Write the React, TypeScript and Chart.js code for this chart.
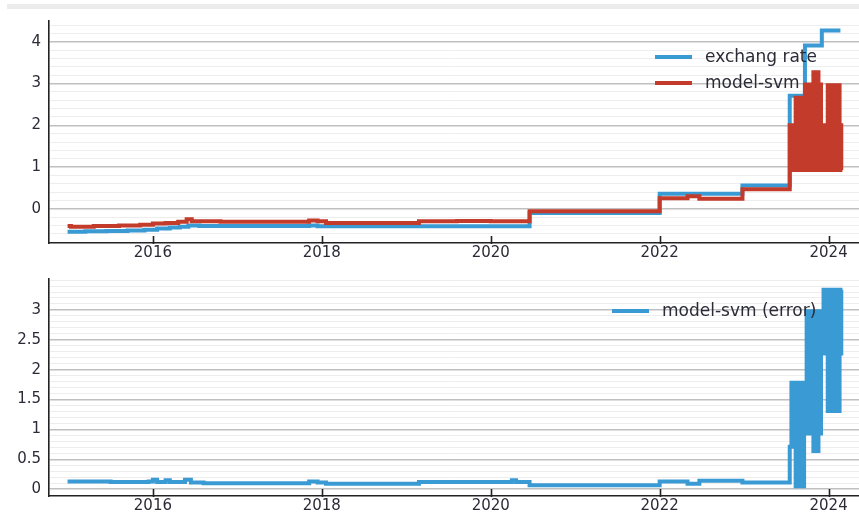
import React, { useEffect, useRef } from "react";
import { Chart, registerables } from "chart.js";

Chart.register(...registerables);

// ---- axis ticks ----
const xTickYears = [2016, 2018, 2020, 2022, 2024];
const topMajorLabels = [0, 1, 2, 3, 4];
const bottomMajorLabels = [0, 0.5, 1, 1.5, 2, 2.5, 3];

// ---- exchange rate (normalised) ----
const rateX = [2014.99, 2015.2, 2015.45, 2015.7, 2015.9, 2016.05, 2016.2, 2016.32, 2016.42, 2016.55, 2017.85, 2017.95, 2019.15, 2020.46, 2022.0, 2022.98, 2023.54, 2023.72, 2023.92, 2024.14];
const rateY = [-0.55, -0.54, -0.53, -0.52, -0.5, -0.47, -0.45, -0.43, -0.4, -0.41, -0.4, -0.42, -0.42, -0.1, 0.36, 0.56, 2.71, 3.91, 4.27, 4.27];

// ---- model-svm prediction, calm period ----
const svmFlatX = [2014.99, 2015.03, 2015.3, 2015.6, 2015.85, 2016.0, 2016.15, 2016.3, 2016.4, 2016.46, 2016.8, 2017.3, 2017.85, 2017.95, 2018.05, 2019.15, 2019.6, 2020.0, 2020.46, 2021.0, 2022.0, 2022.33, 2022.47, 2022.98];
const svmFlatY = [-0.41, -0.43, -0.41, -0.4, -0.38, -0.35, -0.34, -0.31, -0.25, -0.3, -0.31, -0.31, -0.28, -0.3, -0.34, -0.3, -0.29, -0.3, -0.06, -0.06, 0.25, 0.3, 0.24, 0.47];

// ---- model-svm (error), calm period ----
const errFlatX = [2014.99, 2015.5, 2015.95, 2016.0, 2016.05, 2016.15, 2016.2, 2016.38, 2016.45, 2016.6, 2017.85, 2017.95, 2018.05, 2019.15, 2020.25, 2020.3, 2020.46, 2022.0, 2022.33, 2022.47, 2022.98];
const errFlatY = [0.13, 0.12, 0.13, 0.16, 0.12, 0.15, 0.12, 0.16, 0.11, 0.1, 0.13, 0.11, 0.09, 0.12, 0.15, 0.12, 0.065, 0.13, 0.09, 0.14, 0.11];

// ---- volatile period 2023.5 - 2024.15 (prediction oscillates day to day) ----
const oscX = [2023.54, 2023.56, 2023.58, 2023.6, 2023.61, 2023.63, 2023.65, 2023.67, 2023.69, 2023.71, 2023.72, 2023.74, 2023.76, 2023.78, 2023.8, 2023.81, 2023.82, 2023.84, 2023.86, 2023.88, 2023.89, 2023.91, 2023.92, 2023.94, 2023.96, 2023.97, 2023.99, 2024.01, 2024.03, 2024.05, 2024.07, 2024.09, 2024.11, 2024.13, 2024.14, 2024.15];
const oscSvm = [2.0, 0.93, 2.0, 0.93, 2.66, 0.93, 2.66, 0.93, 2.66, 0.93, 2.98, 0.93, 2.98, 0.93, 2.98, 0.93, 3.27, 0.93, 3.27, 0.93, 2.98, 0.93, 2.0, 0.93, 2.0, 0.93, 2.96, 0.93, 2.96, 0.93, 2.96, 0.93, 2.96, 0.93, 2.0, 0.93];
const oscErr = [0.71, 1.78, 0.71, 1.78, 0.05, 1.78, 0.05, 1.78, 0.05, 1.78, 0.93, 2.98, 0.93, 2.98, 0.93, 2.98, 0.64, 2.98, 0.64, 2.98, 0.93, 2.98, 2.27, 3.34, 2.27, 3.34, 1.31, 3.34, 1.31, 3.34, 1.31, 3.34, 1.31, 3.34, 2.27, 3.34];

const BLUE = "#3a9ad3";
const RED = "#c23b2b";
const TEXT = "#2b2b38";
const AXIS = "#222";
const FONT = "'DejaVu Sans', Verdana, sans-serif";

const zip = (xs: number[], ys: number[]) => xs.map((x, i) => ({ x, y: ys[i] }));

function gridTicks(min: number, max: number, step: number) {
  const out: { value: number }[] = [];
  const n = Math.round((max - min) / step);
  for (let i = 0; i <= n; i++) out.push({ value: Math.round((min + i * step) * 1000) / 1000 });
  return out;
}

// inward tick marks on the x axis
const innerTicks = {
  id: "innerTicks",
  afterDraw(chart: any) {
    const xs = chart.scales.x;
    const bottom = chart.chartArea.bottom;
    const ctx = chart.ctx;
    ctx.save();
    ctx.strokeStyle = AXIS;
    ctx.lineWidth = 1.6;
    ctx.beginPath();
    xs.ticks.forEach((t: any) => {
      const px = Math.round(xs.getPixelForValue(t.value)) + 0.5;
      ctx.moveTo(px, bottom + 1);
      ctx.lineTo(px, bottom - 7);
    });
    ctx.stroke();
    ctx.restore();
  },
};

function makeConfig(
  datasets: any[],
  yMin: number,
  yMax: number,
  gMin: number,
  gMax: number,
  gStep: number,
  majors: number[],
  padTop: number,
  xHeight: number
): any {
  const isMajor = (v: number) => majors.some((m) => Math.abs(m - v) < 1e-6);
  return {
    type: "line",
    data: { datasets },
    plugins: [innerTicks],
    options: {
      animation: false,
      responsive: false,
      events: [],
      layout: { padding: { left: 0, right: 0, top: padTop, bottom: 0 } },
      plugins: { legend: { display: false }, tooltip: { enabled: false } },
      scales: {
        x: {
          type: "linear",
          min: 2014.77,
          max: 2024.36,
          afterBuildTicks: (s: any) => {
            s.ticks = xTickYears.map((v) => ({ value: v }));
          },
          afterFit: (s: any) => {
            s.height = xHeight;
          },
          grid: { drawOnChartArea: false, drawTicks: false },
          border: { display: true, color: AXIS, width: 1.5 },
          ticks: {
            padding: 1,
            color: TEXT,
            font: { family: FONT, size: 15 },
            maxRotation: 0,
            autoSkip: false,
            callback: (v: any) => String(v),
          },
        },
        y: {
          type: "linear",
          min: yMin,
          max: yMax,
          afterBuildTicks: (s: any) => {
            s.ticks = gridTicks(gMin, gMax, gStep);
          },
          afterFit: (s: any) => {
            s.width = 49;
          },
          grid: {
            drawTicks: false,
            color: (c: any) => (isMajor(c.tick.value) ? "#c0c0c0" : "#ededed"),
            lineWidth: (c: any) => (isMajor(c.tick.value) ? 1.4 : 1),
          },
          border: { display: true, color: AXIS, width: 1.6 },
          ticks: {
            padding: 8,
            color: TEXT,
            autoSkip: false,
            font: { family: FONT, size: 15 },
            callback: (v: any) => (isMajor(v) ? String(v) : ""),
          },
        },
      },
    },
  };
}

export default function App() {
  const topRef = useRef<HTMLCanvasElement>(null);
  const botRef = useRef<HTMLCanvasElement>(null);

  useEffect(() => {
    const top = new Chart(
      topRef.current as HTMLCanvasElement,
      makeConfig(
        [
          {
            label: "exchang rate",
            data: zip(rateX, rateY),
            borderColor: BLUE,
            backgroundColor: BLUE,
            borderWidth: 4,
            pointRadius: 0,
            stepped: true,
            order: 1,
          },
          {
            label: "model-svm",
            data: zip([...svmFlatX, ...oscX], [...svmFlatY, ...oscSvm]),
            borderColor: RED,
            backgroundColor: RED,
            borderWidth: 4,
            pointRadius: 0,
            stepped: true,
            order: 0,
          },
        ],
        -0.82,
        4.5,
        -0.8,
        4.4,
        0.2,
        topMajorLabels,
        21,
        19
      )
    );
    const bot = new Chart(
      botRef.current as HTMLCanvasElement,
      makeConfig(
        [
          {
            label: "model-svm (error)",
            data: zip([...errFlatX, ...oscX], [...errFlatY, ...oscErr]),
            borderColor: BLUE,
            backgroundColor: BLUE,
            borderWidth: 4,
            pointRadius: 0,
            stepped: true,
          },
        ],
        -0.114,
        3.518,
        -0.1,
        3.5,
        0.1,
        bottomMajorLabels,
        11,
        20
      )
    );
    return () => {
      top.destroy();
      bot.destroy();
    };
  }, []);

  const legendText: React.CSSProperties = {
    position: "absolute",
    fontFamily: FONT,
    fontSize: 17,
    lineHeight: "20px",
    color: TEXT,
    whiteSpace: "nowrap",
  };

  return (
    <div style={{ position: "fixed", left: 0, top: 0, width: 859, height: 516, background: "#fff", overflow: "hidden" }}>
      <div style={{ position: "absolute", left: 7, top: 4, width: 852, height: 5, background: "#ececec" }} />
      <canvas ref={topRef} width={859} height={262} style={{ position: "absolute", left: 0, top: 0, width: 859, height: 262 }} />
      <canvas ref={botRef} width={859} height={254} style={{ position: "absolute", left: 0, top: 262, width: 859, height: 254 }} />
      <div style={{ position: "absolute", left: 655, top: 55, width: 37, height: 4, background: BLUE }} />
      <div style={{ ...legendText, left: 705, top: 46 }}>exchang rate</div>
      <div style={{ position: "absolute", left: 655, top: 81, width: 37, height: 4, background: RED }} />
      <div style={{ ...legendText, left: 705, top: 72 }}>model-svm</div>
      <div style={{ position: "absolute", left: 612, top: 309, width: 37, height: 4, background: BLUE }} />
      <div style={{ ...legendText, left: 662, top: 300 }}>model-svm (error)</div>
    </div>
  );
}
